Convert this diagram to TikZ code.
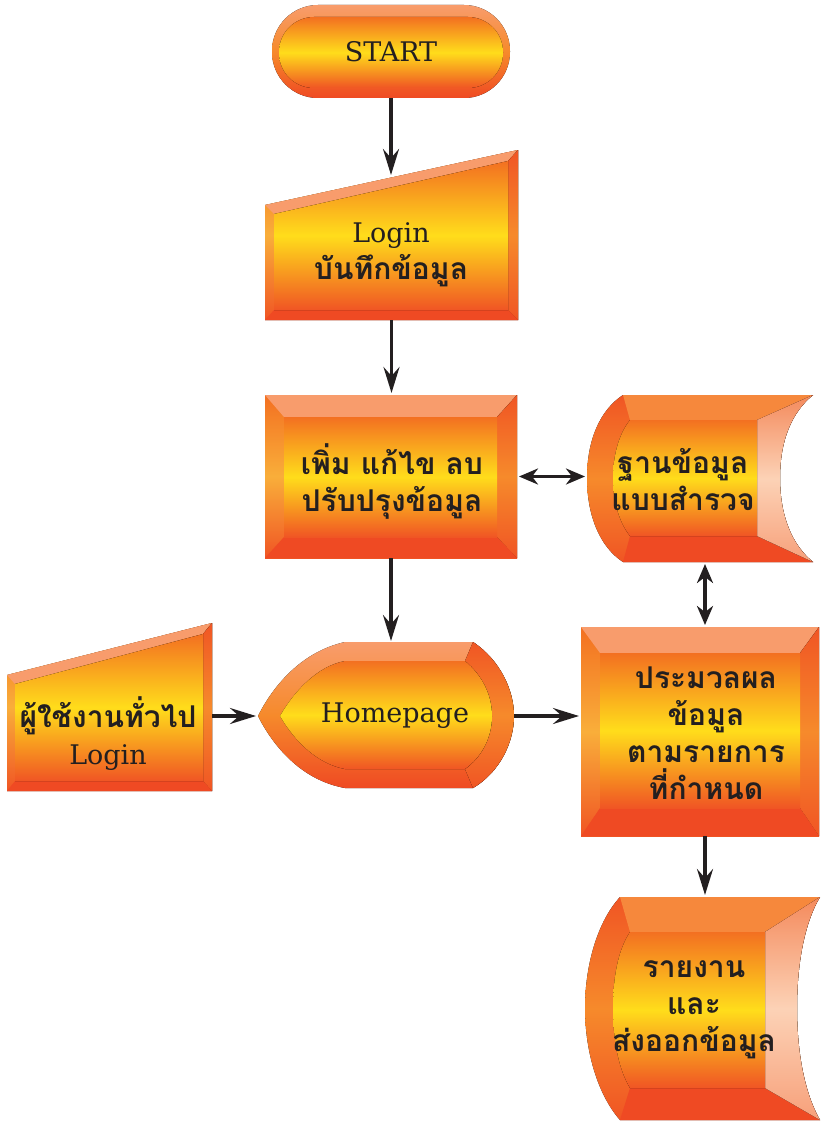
\documentclass[tikz,border=0pt]{standalone}
\usepackage{fontspec}
\usepackage{tikz}
\usetikzlibrary{arrows.meta}
\setmainfont{DejaVu Serif}
\newfontfamily\thaifont[Script=Thai]{Loma}

\definecolor{bevellight}{HTML}{F89C6C}
\definecolor{beveldark}{HTML}{EF4A23}
\definecolor{bevelred}{HTML}{F05524}
\definecolor{faceorange}{HTML}{F37021}
\definecolor{faceyellow}{HTML}{FFDD1B}
\definecolor{sideorange}{HTML}{F68A2B}
\definecolor{sideyellow}{HTML}{F9AE3A}
\definecolor{topbevel}{HTML}{F6883C}
\definecolor{rimtop}{HTML}{F48A5C}
\definecolor{rimbottom}{HTML}{F7A07A}
\definecolor{peach}{HTML}{FCD2B6}
\definecolor{ink}{HTML}{231F20}

\begin{document}
\begin{tikzpicture}[x=1pt, y=-1pt,
    face/.style={top color=faceorange, bottom color=bevelred, middle color=faceyellow},
    side/.style={top color=faceorange, bottom color=bevelred, middle color=sideyellow},
    rside/.style={top color=bevelred, bottom color=bevelred, middle color=sideorange},
    hull/.style={inner sep=0pt, outer sep=0pt},
    thai/.style={font=\thaifont\bfseries\fontsize{30}{37}\selectfont, text=ink, align=center, inner sep=0pt},
    latin/.style={font=\fontsize{27}{37}\selectfont, text=ink, inner sep=0pt},
    flow/.style={draw=ink, line width=3.2pt, -{Stealth[length=26pt, width=16pt, inset=9pt]}, shorten >=2pt},
    both/.style={draw=ink, line width=3.2pt, {Stealth[length=19pt, width=16pt, inset=6pt]}-{Stealth[length=19pt, width=16pt, inset=6pt]}, shorten >=2pt, shorten <=2pt}]

    \useasboundingbox (0,0) rectangle (822,1121);

    % START terminal
    \fill[top color=bevellight, bottom color=beveldark, middle color=sideorange, rounded corners=46pt] (272,5) rectangle (510,98);
    \fill[face, rounded corners=35pt] (279,17) rectangle (503,88);

    % Login manual input
    \fill[side] (265,205) -- (518,150) -- (518,320) -- (265,320) -- cycle;
    \fill[bevellight] (265,205) -- (518,150) -- (508,161) -- (274,214) -- cycle;
    \fill[rside] (518,150) -- (518,320) -- (508,310) -- (508,161) -- cycle;
    \fill[beveldark] (265,320) -- (518,320) -- (508,310) -- (274,310) -- cycle;
    \fill[face] (274,214) -- (508,161) -- (508,310) -- (274,310) -- cycle;

    % Process: add, edit, delete
    \fill[side] (265,395) rectangle (517,558);
    \fill[bevellight] (265,395) -- (517,395) -- (497,417) -- (284,417) -- cycle;
    \fill[rside] (517,395) -- (517,558) -- (497,537) -- (497,417) -- cycle;
    \fill[beveldark] (265,558) -- (517,558) -- (497,537) -- (284,537) -- cycle;
    \fill[face] (284,417) rectangle (497,537);

    % Stored data: survey database
    \fill[rside] (623,395) -- (813,395) .. controls (792,412) and (780,440) .. (780,478)
        .. controls (780,516) and (792,545) .. (813,562) -- (623,562)
        .. controls (600,547) and (587,516) .. (587,478) .. controls (587,440) and (600,410) .. (623,395) -- cycle;
    \fill[topbevel] (623,395) -- (813,395) -- (757,420) -- (630,420) -- cycle;
    \fill[beveldark] (623,562) -- (813,562) -- (757,536) -- (630,536) -- cycle;
    \fill[top color=rimtop, bottom color=rimbottom, middle color=peach] (757,420) -- (813,395)
        .. controls (792,412) and (780,440) .. (780,478) .. controls (780,516) and (792,545) .. (813,562) -- (757,536) -- cycle;
    \fill[face] (630,420) -- (757,420) -- (757,536) -- (630,536)
        .. controls (618,521) and (613,498) .. (613,478) .. controls (613,458) and (618,435) .. (630,420) -- cycle;

    % Guest manual input
    \fill[side] (7,675) -- (212,623) -- (212,791) -- (7,791) -- cycle;
    \fill[bevellight] (7,675) -- (212,623) -- (203,634) -- (15,684) -- cycle;
    \fill[rside] (212,623) -- (212,791) -- (203,781) -- (203,634) -- cycle;
    \fill[beveldark] (7,791) -- (212,791) -- (203,781) -- (15,781) -- cycle;
    \fill[face] (15,684) -- (203,634) -- (203,781) -- (15,781) -- cycle;

    % Display: Homepage
    \fill[top color=bevellight, bottom color=beveldark, middle color=sideorange]
        (258,716) .. controls (272,688) and (300,652) .. (345,642) -- (473,642)
        .. controls (500,660) and (514,690) .. (514,716) .. controls (514,742) and (500,772) .. (473,788)
        -- (345,788) .. controls (300,780) and (272,744) .. (258,716) -- cycle;
    \fill[rside] (473,642) .. controls (500,660) and (514,690) .. (514,716)
        .. controls (514,742) and (500,772) .. (473,788) -- (465,769)
        .. controls (482,757) and (492,737) .. (492,716) .. controls (492,695) and (482,675) .. (465,661) -- cycle;
    \fill[face] (280,716) .. controls (295,690) and (318,666) .. (345,661) -- (465,661)
        .. controls (482,675) and (492,695) .. (492,716) .. controls (492,737) and (482,757) .. (465,769)
        -- (345,769) .. controls (318,764) and (295,742) .. (280,716) -- cycle;

    % Process: data by item
    \fill[side] (581,627) rectangle (819,836);
    \fill[bevellight] (581,627) -- (819,627) -- (800,653) -- (600,653) -- cycle;
    \fill[rside] (819,627) -- (819,836) -- (800,808) -- (800,653) -- cycle;
    \fill[beveldark] (581,836) -- (819,836) -- (800,808) -- (600,808) -- cycle;
    \fill[face] (600,653) rectangle (800,808);

    % Stored data: report and export
    \fill[rside] (620,897) -- (820,897) .. controls (805,922) and (797,962) .. (797,1008)
        .. controls (797,1054) and (805,1094) .. (820,1120) -- (620,1120)
        .. controls (598,1095) and (585,1052) .. (585,1008) .. controls (585,964) and (598,921) .. (620,897) -- cycle;
    \fill[topbevel] (620,897) -- (820,897) -- (765,932) -- (630,932) -- cycle;
    \fill[beveldark] (620,1120) -- (820,1120) -- (765,1088) -- (630,1088) -- cycle;
    \fill[top color=rimtop, bottom color=rimbottom, middle color=peach] (765,932) -- (820,897)
        .. controls (805,922) and (797,962) .. (797,1008) .. controls (797,1054) and (805,1094) .. (820,1120) -- (765,1088) -- cycle;
    \fill[face] (630,932) -- (765,932) -- (765,1088) -- (630,1088)
        .. controls (618,1068) and (613,1038) .. (613,1008) .. controls (613,978) and (618,950) .. (630,932) -- cycle;

    % Hull nodes for the connectors
    \node[hull, minimum width=238pt, minimum height=93pt] (start) at (391,51.5) {};
    \node[hull, minimum width=253pt, minimum height=143pt] (login) at (391.5,248.5) {};
    \node[hull, minimum width=252pt, minimum height=163pt] (edit) at (391,476.5) {};
    \node[hull, minimum width=226pt, minimum height=167pt] (store) at (700,478.5) {};
    \node[hull, minimum width=205pt, minimum height=150pt] (guest) at (109.5,716) {};
    \node[hull, minimum width=256pt, minimum height=146pt] (home) at (386,716) {};
    \node[hull, minimum width=238pt, minimum height=209pt] (proc) at (700,731.5) {};
    \node[hull, minimum width=235pt, minimum height=223pt] (report) at (702.5,1008.5) {};

    % Texts
    \node[latin] (starttxt) at (391,52) {START};
    \node[thai] (logintxt) at (391,255) {{\rmfamily\mdseries\fontsize{27}{37}\selectfont Login}\\บันทึกข้อมูล};
    \node[thai] (edittxt) at (392,481) {เพิ่ม แก้ไข ลบ\\ปรับปรุงข้อมูล};
    \node[thai] (storetxt) at (683,480) {ฐานข้อมูล\\แบบสำรวจ};
    \node[thai] (guesttxt) at (108,734) {ผู้ใช้งานทั่วไป\\{\rmfamily\mdseries\fontsize{27}{37}\selectfont Login}};
    \node[latin] (hometxt) at (395,716) {Homepage};
    \node[thai] (proctxt) at (706,733) {ประมวลผล\\ข้อมูล\\ตามรายการ\\ที่กำหนด};
    \node[thai] (reporttxt) at (694,1010) {รายงาน\\และ\\ส่งออกข้อมูล};

    % Connectors
    \draw[flow] (start.south) -- (start.south |- login.north);
    \draw[flow] (login.south) -- (login.south |- edit.north);
    \draw[flow] (edit.south) -- (edit.south |- home.north);
    \draw[both] (edit.east) -- (edit.east -| store.west);
    \draw[both] ([xshift=5pt]store.south) -- ([xshift=5pt]store.south |- proc.north);
    \draw[flow] (guest.east) -- (guest.east -| home.west);
    \draw[flow] (home.east) -- (home.east -| proc.west);
    \draw[flow] ([xshift=5pt]proc.south) -- ([xshift=5pt]proc.south |- report.north);

\end{tikzpicture}
\end{document}
